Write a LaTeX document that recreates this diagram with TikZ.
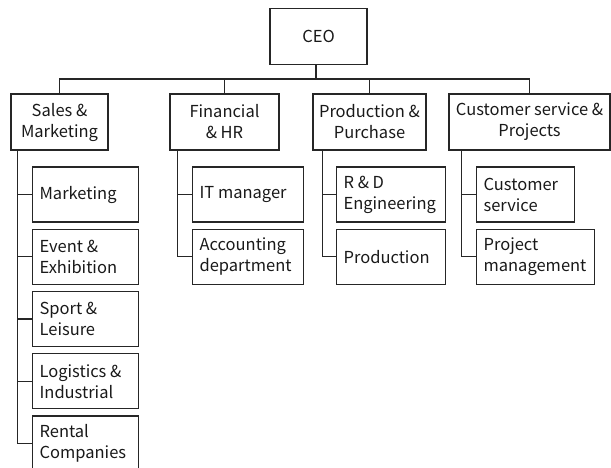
\documentclass[tikz,border=0pt]{standalone}
\usepackage{fontspec}
\setmainfont{Noto Sans CJK SC}
\begin{document}
\begin{tikzpicture}[x=1pt,y=-1pt,
  line width=1.2pt,
  every node/.style={font=\fontsize{16.5}{21}\selectfont, text=black!90},
  topbox/.style={draw=black!85, align=center, minimum height=56pt, inner sep=0pt},
  kidbox/.style={draw=black!85, anchor=west, align=flush left, minimum height=55pt, inner xsep=7pt, inner ysep=0pt},
  link/.style={draw=black!85}]
\useasboundingbox (0,0) rectangle (611,468);
\clip (0,0) rectangle (611,468);

\node[topbox, minimum width=97pt] (ceo) at (318.5,36.5) {CEO};

\node[topbox, minimum width=97pt] (sales) at (59.5,122) {Sales \&\\Marketing};
\node[topbox, minimum width=109pt] (fin) at (224.5,122) {Financial\\\& HR};
\node[topbox, minimum width=113pt] (prod) at (369.5,122) {Production \&\\Purchase};
\node[topbox, minimum width=161pt] (cust) at (529.5,122) {Customer service \&\\Projects};

\coordinate (bus) at (0,79);
\coordinate (ceostem) at ([xshift=-2.5pt]ceo.south);
\draw[link] (ceostem) -- (ceostem |- bus);
\draw[link] (sales.north) |- (bus -| cust.north) -- (cust.north);
\draw[link] (fin.north) -- (fin.north |- bus);
\draw[link] (prod.north) -- (prod.north |- bus);

% Sales children
\node[kidbox, text width=92pt] (mkt) at (32,194.5) {Marketing};
\node[kidbox, text width=92pt] (evt) at (32,256.75) {Event \&\\Exhibition};
\node[kidbox, text width=92pt] (spt) at (32,319) {Sport \&\\Leisure};
\node[kidbox, text width=92pt] (log) at (32,381.25) {Logistics \&\\Industrial};
\node[kidbox, text width=92pt] (rent) at (32,443.5) {Rental\\Companies};

% Financial children
\node[kidbox, text width=97pt] (it) at (192,194.5) {IT manager};
\node[kidbox, text width=97pt] (acc) at (192,256.75) {Accounting\\department};

% Production children
\node[kidbox, text width=95pt] (rd) at (336,194.5) {R \& D\\Engineering};
\node[kidbox, text width=95pt] (pro) at (336,256.75) {Production};

% Customer children
\node[kidbox, text width=84pt] (cs) at (476,194.5) {Customer\\service};
\node[kidbox, text width=104pt] (pm) at (476,256.75) {Project\\management};

\coordinate (sa) at ([xshift=7pt]sales.south west);
\coordinate (fa) at ([xshift=8pt]fin.south west);
\coordinate (pa) at ([xshift=10pt]prod.south west);
\coordinate (ca) at ([xshift=13pt]cust.south west);

\foreach \k in {mkt,evt,spt,log,rent} \draw[link] (sa) |- (\k.west);
\foreach \k in {it,acc} \draw[link] (fa) |- (\k.west);
\foreach \k in {rd,pro} \draw[link] (pa) |- (\k.west);
\foreach \k in {cs,pm} \draw[link] (ca) |- (\k.west);
\end{tikzpicture}
\end{document}
